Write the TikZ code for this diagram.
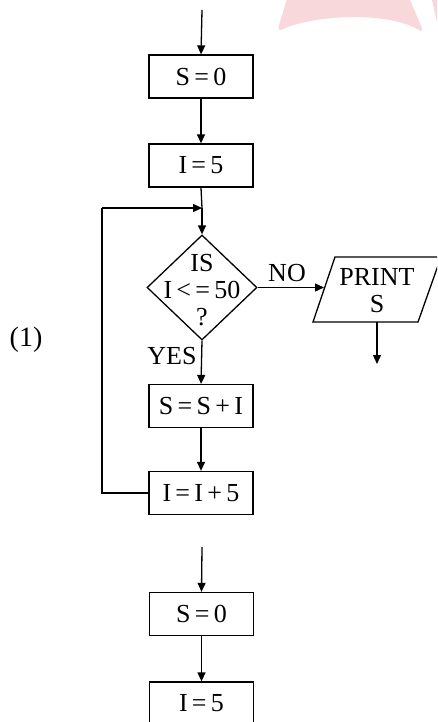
\documentclass[tikz,border=0pt]{standalone}
\usepackage{fontspec}
\setmainfont{Liberation Serif}
\usetikzlibrary{arrows.meta,shapes.geometric}
\definecolor{wm}{HTML}{F9D8DC}
\tikzset{
  x=1pt,y=-1pt,
  flow/.style={line width=1.3pt,-{Triangle[length=9pt,width=8pt]}},
  plain/.style={line width=1.3pt},
  procbox/.style={draw,line width=1.3pt,minimum width=104pt,minimum height=43pt,inner sep=0pt,font=\fontsize{26}{28}\selectfont},
  decision/.style={draw,diamond,line width=1.3pt,minimum width=110pt,minimum height=105pt,inner sep=0pt},
  txt/.style={inner sep=0pt,font=\fontsize{26}{28}\selectfont},
}
\begin{document}
\begin{tikzpicture}
\useasboundingbox (0,0) rectangle (437,722);
\clip (0,0) rectangle (437,722);
% watermark
\fill[wm,rounded corners=6pt] (288,-5) -- (277,32) .. controls (310,16) and (385,10) .. (424,33) -- (408,-5) -- cycle;
\fill[wm] (432,0) -- (437,0) -- (437,22) -- cycle;
% first chart
\coordinate (top1) at (202,10);
\node[procbox] (s0) at (201,76.5) {S\,=\,0};
\node[procbox] (i5) at (201,165.5) {I\,=\,5};
\coordinate (merge) at (202,208);
\node[decision] (dec) at (202,287.5) {};
\node[txt,align=center] (dect) at (202,290) {IS\\[-1pt]I\,<\,=\,50\\[-1pt]?};
\node[procbox] (ss) at (201,406) {S\,=\,S\,+\,I};
\node[procbox] (ii) at (201,493) {I\,=\,I\,+\,5};
\coordinate (lb) at (102,493);
\coordinate (lt) at (102,208);
% print parallelogram
\coordinate (p1) at (335,257);
\coordinate (p2) at (441,257);
\coordinate (p3) at (418,322);
\coordinate (p4) at (313,322);
\draw[plain,line join=miter] (p1) -- (p2) -- (p3) -- (p4) -- cycle;
\node[txt,align=center] (pr) at (377,291) {PRINT\\[-1pt]S};
\coordinate (pin) at (324,287.5);
\coordinate (pout) at (377,322);
\coordinate (pend) at (377,364);
\draw[flow] (top1) -- (s0.north);
\draw[flow] (s0) -- (i5);
\draw[plain] (i5.south) -- (merge);
\draw[flow] (merge) -- (dec.north);
\draw[flow] (dec.east) -- (pin);
\node[txt] (no) at (287,273) {NO};
\draw[flow] (pout) -- (pend);
\draw[flow] (dec.south) -- (ss.north);
\node[txt] (yes) at (172,356) {YES};
\draw[flow] (ss) -- (ii);
\draw[plain] (ii.west) -- (lb) -- (lt);
\draw[flow] (lt) -- (merge);
\node[txt,font=\fontsize{28}{30}\selectfont] (lab) at (26,340) {(1)};
% second chart
\coordinate (top2) at (202,547);
\node[procbox] (s0b) at (201.5,614) {S\,=\,0};
\node[procbox] (i5b) at (201.5,703.5) {I\,=\,5};
\draw[flow] (top2) -- (s0b.north);
\draw[flow] (s0b) -- (i5b);
\end{tikzpicture}
\end{document}
